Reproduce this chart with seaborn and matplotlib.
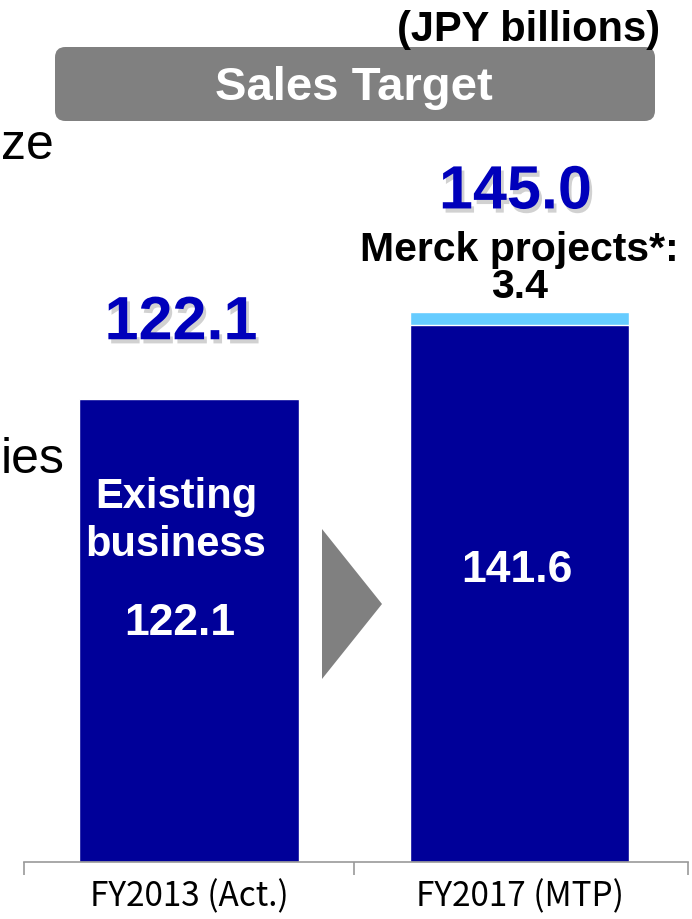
import matplotlib
matplotlib.use("Agg")
import matplotlib.pyplot as plt
import matplotlib.patheffects as pe
from matplotlib.patches import FancyBboxPatch, Polygon
import seaborn as sns

# data (JPY billions)
categories = ["FY2013 (Act.)", "FY2017 (MTP)"]
existing = [122.1, 141.6]
merck = [0.0, 3.4]
totals = [round(e + m, 1) for e, m in zip(existing, merck)]

dark_blue = "#000099"
light_blue = "#66CCFF"
label_blue = "#0000BB"
grey = "#808080"

sns.set_theme(style="white")
plt.rcParams["font.family"] = ["Liberation Sans", "DejaVu Sans"]

fig = plt.figure(figsize=(6.92, 9.2), dpi=100)
ax = fig.add_axes([24 / 692, 57 / 920, 664 / 692, 1 - 57 / 920])
ax.patch.set_alpha(0)

sns.barplot(x=categories, y=totals, color=light_blue, saturation=1, width=0.665, ax=ax)
sns.barplot(x=categories, y=existing, color=dark_blue, saturation=1, width=0.665, ax=ax)

ax.set_xlim(-0.5, 1.5)
ax.set_ylim(0, 863 / 3.79)
for s in ["top", "left", "right"]:
    ax.spines[s].set_visible(False)
ax.spines["bottom"].set_color("#999999")
ax.spines["bottom"].set_linewidth(1.2)
ax.spines["bottom"].set_bounds(-0.5, 1.51)
ax.set_yticks([])
ax.set_xticks([0, 1])
ax.set_xticklabels(categories, family=["Noto Sans CJK JP", "DejaVu Sans"], fontsize=24)
ax.set_xticks([-0.5, 0.5, 1.51], minor=True)
ax.tick_params(axis="x", which="major", length=0, pad=12, colors="black")
ax.tick_params(axis="x", which="minor", length=9, width=1.2, color="#999999", direction="out", bottom=True)
ax.set_xlabel("")
ax.set_ylabel("")

shadow = [pe.SimplePatchShadow(offset=(2, -3), shadow_rgbFace="#999999", alpha=0.45), pe.Normal()]

# totals above bars
ax.annotate(f"{totals[0]:.1f}", (0, totals[0]), xytext=(-8, 60), textcoords="offset pixels",
            ha="center", va="baseline", fontsize=44, fontweight="bold", color=label_blue,
            path_effects=shadow)
ax.annotate(f"{totals[1]:.1f}", (1, totals[1]), xytext=(-4, 104), textcoords="offset pixels",
            ha="center", va="baseline", fontsize=44, fontweight="bold", color=label_blue,
            path_effects=shadow)
ax.annotate("Merck projects*:", (1, totals[1]), xytext=(0, 52), textcoords="offset pixels",
            ha="center", va="baseline", fontsize=29.5, fontweight="bold", color="black",
            annotation_clip=False)
ax.annotate(f"{merck[1]:.1f}", (1, totals[1]), xytext=(0, 15), textcoords="offset pixels",
            ha="center", va="baseline", fontsize=29.5, fontweight="bold", color="black")

# labels inside bars
ax.annotate("Existing", (0, existing[0]), xytext=(-13, -97), textcoords="offset pixels",
            ha="center", va="center", fontsize=30, fontweight="bold", color="white")
ax.annotate("business", (0, existing[0]), xytext=(-13, -145), textcoords="offset pixels",
            ha="center", va="center", fontsize=30, fontweight="bold", color="white")
ax.annotate(f"{existing[0]:.1f}", (0, existing[0]), xytext=(-9, -223), textcoords="offset pixels",
            ha="center", va="center", fontsize=32, fontweight="bold", color="white")
ax.annotate(f"{existing[1]:.1f}", (1, existing[1]), xytext=(-3, -244), textcoords="offset pixels",
            ha="center", va="center", fontsize=32, fontweight="bold", color="white")

# grey arrow between bars
arrow = Polygon([(322 / 692, 1 - 530 / 920), (322 / 692, 1 - 680 / 920), (382 / 692, 1 - 605 / 920)],
                closed=True, transform=fig.transFigure, facecolor=grey, edgecolor="none")
fig.patches.append(arrow)

# header
banner = FancyBboxPatch((55 / 692, 1 - 122 / 920), 600 / 692, 74 / 920,
                        boxstyle="round,pad=0,rounding_size=0.015", transform=fig.transFigure,
                        facecolor=grey, edgecolor="none", mutation_aspect=692 / 920)
fig.patches.append(banner)
fig.text(354 / 692, 1 - 88 / 920, "Sales Target", ha="center", va="center",
         fontsize=34, fontweight="bold", color="white")
fig.text(660 / 692, 1 - 30 / 920, "(JPY billions)", ha="right", va="center",
         fontsize=30, fontweight="bold", color="black")

# text continuing from neighbouring slide content
fig.text(1 / 692, 1 - 146 / 920, "ze", ha="left", va="center", fontsize=36, color="black")
fig.text(1 / 692, 1 - 460 / 920, "ies", ha="left", va="center", fontsize=36, color="black")

fig.savefig("out.png", dpi=100)
